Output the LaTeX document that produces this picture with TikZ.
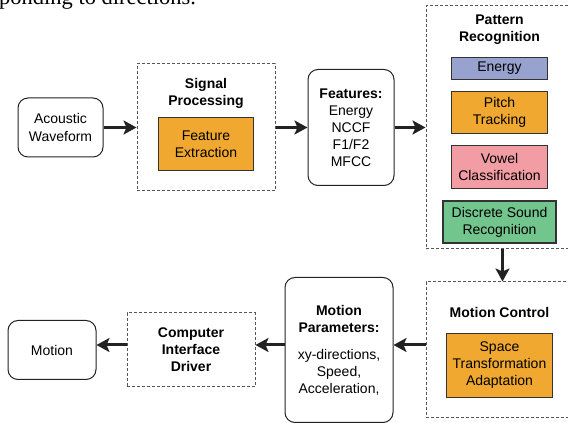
\documentclass[tikz,border=0pt]{standalone}
\usepackage{fontspec}
\setmainfont{Liberation Sans}
\newfontfamily\pagefont{Liberation Serif}
\usetikzlibrary{positioning, arrows.meta}
\definecolor{boxorange}{HTML}{F0A830}
\definecolor{energyblue}{HTML}{98A2CE}
\definecolor{vowelpink}{HTML}{F29CA3}
\definecolor{soundgreen}{HTML}{72C58C}
\definecolor{edgegray}{HTML}{333333}
\definecolor{dashgray}{HTML}{555555}
\definecolor{arrowgray}{HTML}{222222}

\begin{document}
\begin{tikzpicture}[x=1pt, y=1pt,
     node distance = 11pt and 30pt,
every node/.style = {font=\fontsize{14}{17}\selectfont, align=center, inner sep=0pt},
                > = {Stealth[length=13pt, width=14pt, inset=3pt]},
       flow/.style = {->, line width=3pt, draw=arrowgray},
       rbox/.style = {rectangle, rounded corners=10pt, draw=arrowgray, line width=1pt},
       dbox/.style = {rectangle, draw=dashgray, line width=1pt, dash pattern=on 3pt off 2pt},
       cbox/.style = {rectangle, draw=edgegray, line width=1.2pt},
      title/.style = {font=\fontsize{14}{17}\selectfont\bfseries}
                        ]
\useasboundingbox (0,0) rectangle (568,423);
\clip (0,0) rectangle (568,423);
\node (pagetext) [anchor=base west, font=\pagefont\fontsize{22.5}{27}\selectfont] at (-1,418) {ponding to directions.};
% top row
\node (wave) [rbox, minimum width=85pt, minimum height=59pt] at (60.5,295.5) {Acoustic\\Waveform};
\node (sigproc) [dbox, minimum width=138pt, minimum height=127pt, right=33pt of wave] {};
\node (sptitle) [title] at ([yshift=-30pt]sigproc.north) {Signal\\Processing};
\node (featext) [cbox, fill=boxorange, minimum width=95pt, minimum height=53pt] at ([yshift=-80.5pt]sigproc.north) {Feature\\Extraction};
\node (features) [rbox, minimum width=86pt, minimum height=116pt, right=32pt of sigproc] {\textbf{Features:}\\Energy\\NCCF\\F1/F2\\MFCC};
\node (pattern) [dbox, minimum width=147pt, minimum height=243pt, right=31pt of features] {};
\node (prtitle) [title] at ([yshift=-24.5pt]pattern.north) {Pattern\\Recognition};
\node (energy) [cbox, fill=energyblue, minimum width=96pt, minimum height=22pt] at ([yshift=-63pt]pattern.north) {Energy};
\node (pitch) [cbox, fill=boxorange, minimum width=96pt, minimum height=42pt, below=of energy] {Pitch\\Tracking};
\node (vowel) [cbox, fill=vowelpink, minimum width=96pt, minimum height=43pt, below=of pitch] {Vowel\\Classification};
\node (discrete) [cbox, fill=soundgreen, minimum width=113pt, minimum height=42pt, below=of vowel] {Discrete Sound\\Recognition};
% bottom row
\node (motionctl) [dbox, minimum width=147pt, minimum height=136pt, below=32pt of pattern] {};
\node (mctitle) [title] at ([yshift=-31pt]motionctl.north) {Motion Control};
\node (space) [cbox, fill=boxorange, minimum width=106pt, minimum height=64pt] at ([yshift=-84pt]motionctl.north) {Space\\Transformation\\Adaptation};
\node (mparams) [rbox, minimum width=108pt, minimum height=145pt, left=32pt of motionctl] {\textbf{Motion}\\\textbf{Parameters:}\\[10pt]xy-directions,\\Speed,\\Acceleration,};
\node (driver) [dbox, title, minimum width=128pt, minimum height=74pt, left=29pt of mparams] {Computer\\Interface\\Driver};
\node (motion) [rbox, minimum width=88pt, minimum height=59pt, left=30pt of driver] {Motion};
% arrows
\draw[flow] (wave.east) -- (wave.east -| sigproc.west);
\draw[flow] (sigproc.east) -- (sigproc.east -| features.west);
\draw[flow] (features.east) -- (features.east -| pattern.west);
\draw[flow] ([xshift=3pt]pattern.south) -- ([xshift=3pt]motionctl.north);
\draw[flow] ([yshift=5pt]motionctl.west) -- ([yshift=5pt]motionctl.west -| mparams.east);
\draw[flow] ([yshift=5pt]mparams.west) -- ([yshift=5pt]mparams.west -| driver.east);
\draw[flow] ([yshift=5pt]driver.west) -- ([yshift=5pt]driver.west -| motion.east);
\end{tikzpicture}
\end{document}
